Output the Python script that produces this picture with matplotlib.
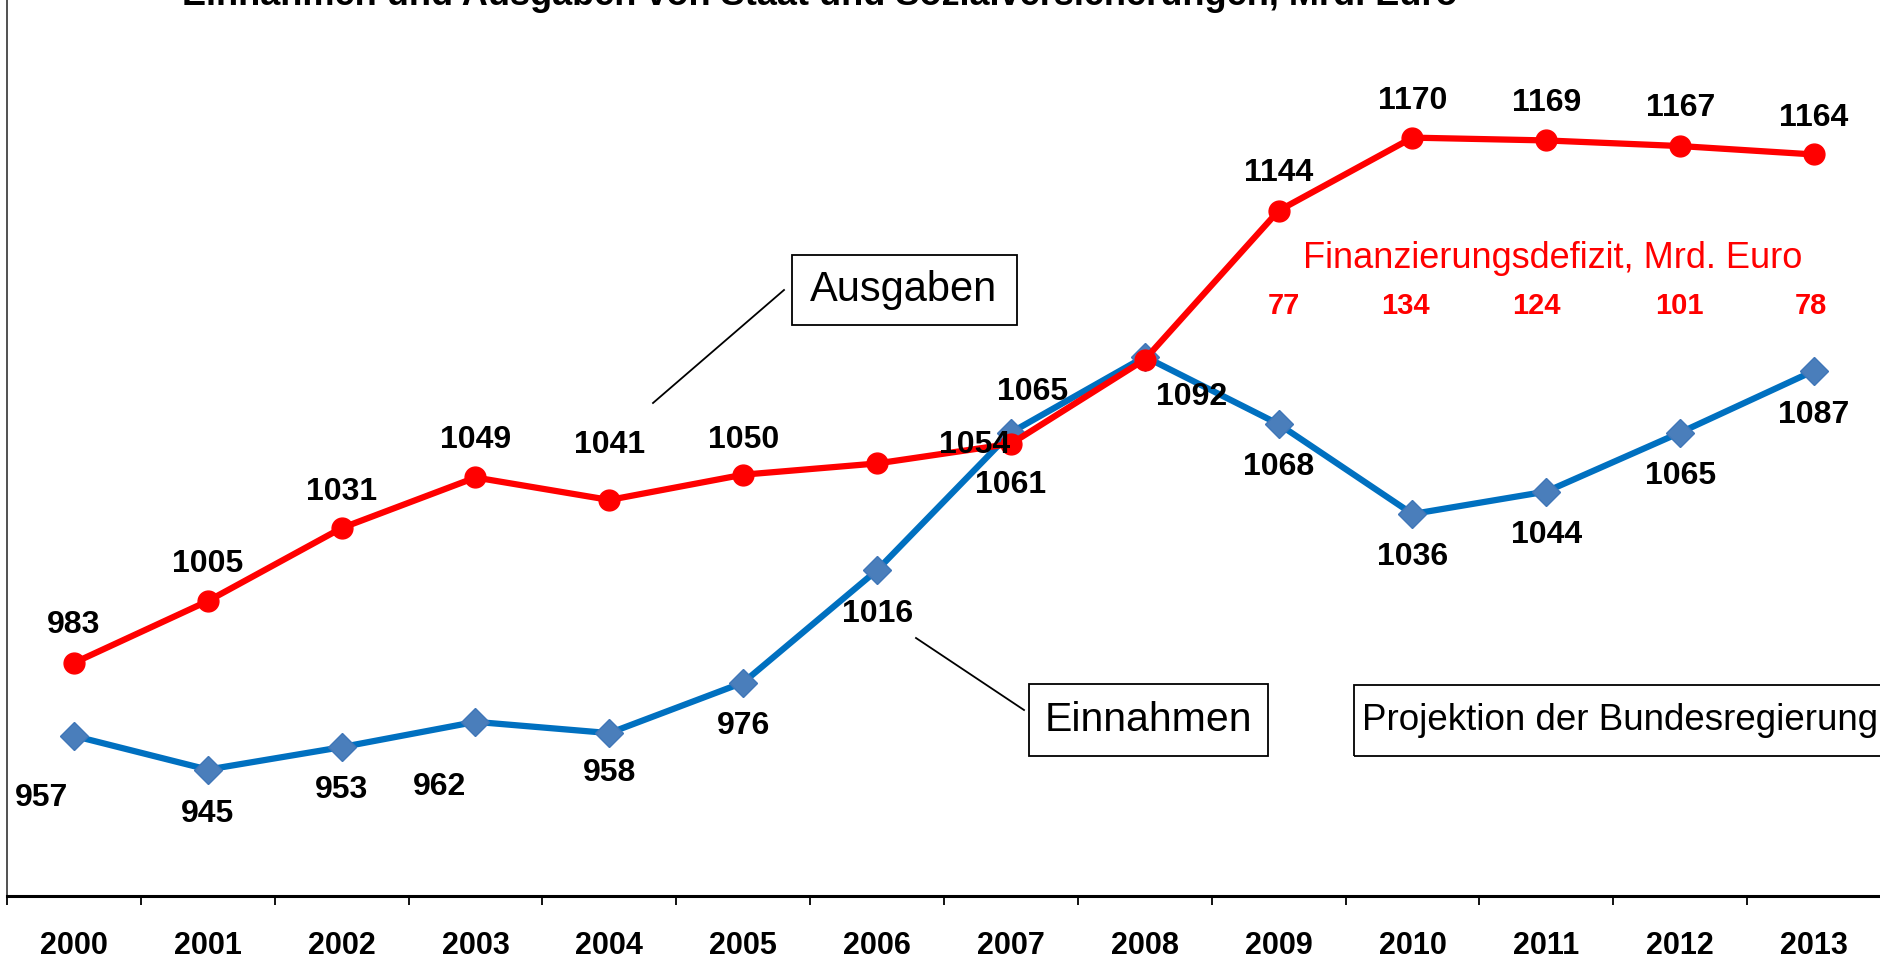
import matplotlib
matplotlib.use("Agg")
import matplotlib.pyplot as plt
from matplotlib.patches import Rectangle
from matplotlib.lines import Line2D

plt.rcParams['font.family'] = ['Liberation Sans', 'DejaVu Sans']

# data
years = [str(y) for y in range(2000, 2014)]
ausgaben = [983, 1005, 1031, 1049, 1041, 1050, 1054, 1061, 1091, 1144, 1170, 1169, 1167, 1164]
einnahmen = [957, 945, 953, 962, 958, 976, 1016, 1065, 1092, 1068, 1036, 1044, 1065, 1087]
ausgaben_labels = ['983', '1005', '1031', '1049', '1041', '1050', '1054', '1061', '',
                   '1144', '1170', '1169', '1167', '1164']
defizit_years = ['2009', '2010', '2011', '2012', '2013']
defizit = [77, 134, 124, 101, 78]

# label offsets in pixels (dx, dy)
red_off = [(0, 38), (0, 37), (0, 36), (0, 37), (0, 55), (0, 35), (97, 18), (0, -41),
           (0, 0), (0, 38), (0, 37), (0, 37), (0, 38), (0, 36)]
blue_off = [(-32, -62), (0, -44), (0, -43), (-36, -65), (0, -40), (0, -43), (0, -44),
            (22, 41), (47, -40), (0, -43), (0, -43), (0, -43), (0, -43), (0, -44)]
def_off = [5, -7, -10, -1, -3]

W, H = 1881, 968
fig = plt.figure(figsize=(W / 100, H / 100), dpi=100)
ax = fig.add_axes([7 / W, 1 - 896 / H, 1 - 7 / W, 896 / H])


def fx(px):
    return px / W


def fy(py):
    return 1 - py / H


x = list(range(len(years)))
ax.plot(x, einnahmen, color='#0070C0', lw=4.5, marker='D', ms=14,
        mfc='#4A7EBB', mec='#3F76B8', zorder=3)
ax.plot(x, ausgaben, color='#FF0000', lw=4.5, marker='o', ms=15,
        mfc='#FF0000', mec='#FF0000', zorder=4)

for i, v in enumerate(ausgaben):
    if ausgaben_labels[i]:
        ax.annotate(ausgaben_labels[i], (i, v), xytext=red_off[i], textcoords='offset pixels',
                    ha='center', va='center', fontsize=23, fontweight='bold', zorder=5)
for i, v in enumerate(einnahmen):
    ax.annotate(str(v), (i, v), xytext=blue_off[i], textcoords='offset pixels',
                ha='center', va='center', fontsize=23, fontweight='bold', zorder=5)

for i, d in enumerate(defizit):
    xi = years.index(defizit_years[i])
    ax.annotate(str(d), (xi, 1110), xytext=(def_off[i], 0), textcoords='offset pixels',
                ha='center', va='center', fontsize=21, fontweight='bold', color='#FF0000')

ax.set_xlim(-0.5, len(years) - 0.5)
ax.set_ylim(900, 1219)
ax.set_xticks(x)
ax.set_xticklabels(years, fontsize=22, fontweight='bold')
ax.set_xticks([i - 0.5 for i in range(len(years) + 1)], minor=True)
ax.tick_params(axis='x', which='major', length=0, pad=25)
ax.tick_params(axis='x', which='minor', length=6.5, width=1.3, direction='out')
ax.set_yticks([])
for s in ['top', 'right']:
    ax.spines[s].set_visible(False)
ax.spines['bottom'].set_linewidth(2.2)
ax.spines['left'].set_linewidth(1.2)
ax.spines['left'].set_color('#333333')

# title (cut off at the top in the original)
fig.text(fx(182), fy(5), 'Einnahmen und Ausgaben von Staat und Sozialversicherungen, Mrd. Euro',
         ha='left', va='baseline', fontsize=26, fontweight='bold')
fig.text(fx(20), fy(1), '\u27a2', ha='left', va='baseline', fontsize=20, color='#E0004D',
         family='DejaVu Sans')

# boxes with connector lines
fig.patches.append(Rectangle((fx(792), fy(325)), fx(1017) - fx(792), fy(255) - fy(325),
                             transform=fig.transFigure, fill=False, lw=1.3, ec='black'))
fig.text(fx(904), fy(290), 'Ausgaben', ha='center', va='center', fontsize=30)
fig.lines.append(Line2D([fx(653), fx(784)], [fy(403), fy(290)], transform=fig.transFigure,
                        color='black', lw=1.3))

fig.patches.append(Rectangle((fx(1029), fy(756)), fx(1268) - fx(1029), fy(684) - fy(756),
                             transform=fig.transFigure, fill=False, lw=1.3, ec='black'))
fig.text(fx(1148), fy(720), 'Einnahmen', ha='center', va='center', fontsize=29.5)
fig.lines.append(Line2D([fx(916), fx(1024)], [fy(638), fy(710)], transform=fig.transFigure,
                        color='black', lw=1.3))

fig.patches.append(Rectangle((fx(1354), fy(756)), fx(1900) - fx(1354), fy(685) - fy(756),
                             transform=fig.transFigure, fill=False, lw=1.3, ec='black'))
fig.text(fx(1362), fy(720), 'Projektion der Bundesregierung', ha='left', va='center', fontsize=26.5)

fig.text(fx(1303), fy(258), 'Finanzierungsdefizit, Mrd. Euro', ha='left', va='center',
         fontsize=26, color='#FF0000')

fig.savefig('out.png', dpi=100)
